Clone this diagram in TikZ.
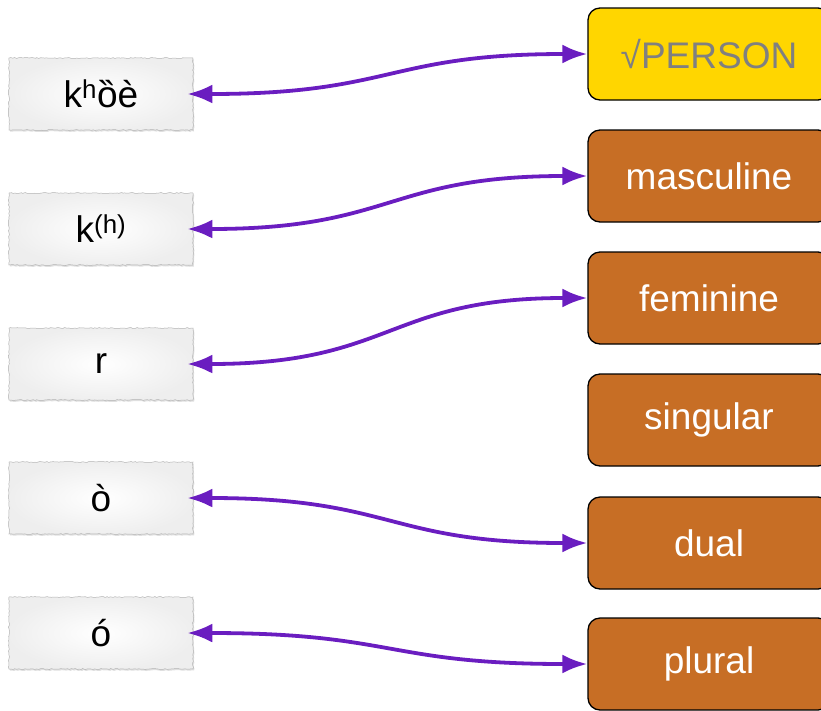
\documentclass[tikz,border=0pt]{standalone}
\usepackage{fontspec}
\setmainfont{Liberation Sans}
\usetikzlibrary{arrows.meta,shadows,decorations.pathmorphing}
\definecolor{ouro}{HTML}{FFD600}
\definecolor{cobre}{HTML}{C76E25}
\definecolor{roxo}{HTML}{6A1DC0}
\tikzset{
  papel/.style={minimum width=184pt, minimum height=72pt, inner color=white, outer color=gray!13,
    draw=gray!60, line width=0.5pt, decorate, decoration={random steps, segment length=2pt, amplitude=0.5pt},
    drop shadow={shadow xshift=1pt, shadow yshift=-1.5pt, opacity=0.25},
    font=\fontsize{37}{40}\selectfont},
  traco/.style={rounded corners=12pt, draw=black, line width=1.3pt, minimum width=242pt, minimum height=92pt,
    fill=cobre, text=white, font=\fontsize{37}{40}\selectfont},
  seta/.style={roxo, line width=3.8pt, {Latex[length=25pt,width=19pt]}-{Latex[length=25pt,width=19pt]}, shorten <=-6pt}
}
\begin{document}
\begin{tikzpicture}[x=1pt, y=-1pt]
    \useasboundingbox (0,0) rectangle (821,710); % Moldura
    % Formas (papel rasgado)
    \node[papel] (khoe) at (101,94) {k\textsuperscript{h}ȍè};
    \node[papel] (kh) at (101,229) {k\textsuperscript{(h)}};
    \node[papel] (r) at (101,364) {r};
    \node[papel] (ograve) at (101,498) {ò};
    \node[papel] (oacute) at (101,633) {ó};
    % Tracos
    \node[traco, fill=ouro, text=gray] (raiz) at (709,54) {√PERSON};
    \node[traco] (masc) at (709,176) {masculine};
    \node[traco] (fem) at (709,298) {feminine};
    \node[traco] (sing) at (709,420) {singular};
    \node[traco] (dual) at (709,543) {dual};
    \node[traco] (plur) at (709,664) {plural};
    % Ligacoes
    \draw[seta] (khoe.east) .. controls +(200,0) and +(-200,0) .. (raiz.west);
    \draw[seta] (kh.east) .. controls +(200,0) and +(-200,0) .. (masc.west);
    \draw[seta] (r.east) .. controls +(200,0) and +(-200,0) .. (fem.west);
    \draw[seta] (ograve.east) .. controls +(200,0) and +(-200,0) .. (dual.west);
    \draw[seta] (oacute.east) .. controls +(200,0) and +(-200,0) .. (plur.west);
\end{tikzpicture}
\end{document}
